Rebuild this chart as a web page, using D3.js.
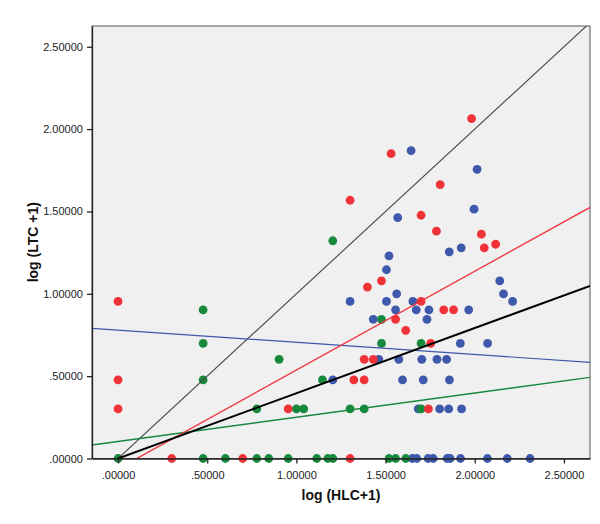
<!DOCTYPE html>
<html><head><meta charset="utf-8">
<script src="https://cdn.jsdelivr.net/npm/d3@7/dist/d3.min.js"></script>
<style>body{margin:0;background:#fff}svg{display:block}text{font-family:"Liberation Sans",Arial,sans-serif}</style>
</head><body><svg id="c" width="600" height="524"></svg>
<script>
const xTicks = [0, 0.5, 1.0, 1.5, 2.0, 2.5];
const yTicks = [0, 0.5, 1.0, 1.5, 2.0, 2.5];
const blueX = [1.204,1.462,1.301,1.562,1.505,1.556,1.431,1.574,1.505,1.519,1.568,1.643,2.013,1.996,1.857,1.924,2.140,2.161,2.212,1.653,1.672,1.743,1.966,1.732,1.919,2.072,1.703,1.788,1.842,1.595,1.711,1.858,1.683,1.803,1.854,1.926,1.650,1.675,1.738,1.767,1.845,1.862,1.920,2.071,2.182,2.310];
const blueY = [0.477,0.602,0.954,1.0,0.954,0.903,0.845,0.602,1.146,1.230,1.462,1.869,1.756,1.514,1.255,1.279,1.079,1.0,0.954,0.954,0.903,0.903,0.903,0.845,0.699,0.699,0.602,0.602,0.602,0.477,0.477,0.477,0.301,0.301,0.301,0.301,0,0,0,0,0,0,0,0,0,0];
const greenX = [0,0.477,0.602,0.778,0.845,0.954,1.114,1.176,1.204,1.519,1.556,1.613,0.477,0.477,0.477,0.903,0.778,1.0,1.041,1.146,1.301,1.380,1.477,1.477,1.699,1.699,1.204];
const greenY = [0,0,0,0,0,0,0,0,0,0,0,0,0.903,0.699,0.477,0.602,0.301,0.301,0.301,0.477,0.301,0.301,0.699,0.845,0.301,0.699,1.322];
const redX = [0,0,0,0.301,0.699,0.954,1.301,1.322,1.380,1.380,1.431,1.398,1.477,1.556,1.613,1.740,1.753,1.699,1.826,1.881,1.301,1.531,1.982,1.806,1.699,1.785,2.037,2.053,2.117];
const redY = [0.954,0.477,0.301,0,0,0.301,0,0.477,0.477,0.602,0.602,1.041,1.079,0.845,0.778,0.301,0.699,0.954,0.903,0.903,1.568,1.851,2.064,1.663,1.477,1.380,1.362,1.279,1.301];
// fit lines: [intercept, slope]
const fitBlue = [0.779, -0.0738];
const fitGreen = [0.1035, 0.147];
const fitRed = [-0.063, 0.600];
const fitTotal = [0.0, 0.396];
const refLine = [0, 1];

const svg = d3.select("#c");
const L=92,R=590,T=26,B=458.5;
const x = d3.scaleLinear().domain([-0.146, 2.646]).range([L,R]);
const y = d3.scaleLinear().domain([0, 2.626]).range([B,T]);
const fmt = v => { let s = v.toFixed(5); return s.startsWith("0") ? s.slice(1) : s; };

svg.append("rect").attr("x",L).attr("y",T).attr("width",R-L).attr("height",B-T).attr("fill","#f0f0f0").attr("stroke","#555").attr("stroke-width",1);
svg.append("clipPath").attr("id","clip").append("rect").attr("x",L).attr("y",T).attr("width",R-L).attr("height",B-T);

const col = {blue:"#3e58ac", green:"#16893c", red:"#ef3339"};
function pts(xs, ys, c){
  svg.append("g").selectAll("circle").data(xs.map((v,i)=>[v,ys[i]])).join("circle")
    .attr("cx",d=>x(d[0])).attr("cy",d=>y(d[1])).attr("r",4.4).attr("fill",c);
}
pts(blueX, blueY, col.blue);
pts(greenX, greenY, col.green);
pts(redX, redY, col.red);

const lg = svg.append("g").attr("clip-path","url(#clip)");
function fit(f, c, w){
  const [a,b]=f, x0=x.domain()[0], x1=x.domain()[1];
  lg.append("line").attr("x1",x(x0)).attr("y1",y(a+b*x0)).attr("x2",x(x1)).attr("y2",y(a+b*x1))
    .attr("stroke",c).attr("stroke-width",w);
}
fit(refLine, "#444", 1.1);
fit(fitBlue, "#3e58ac", 1.2);
fit(fitGreen, "#16893c", 1.3);
fit(fitRed, "#ef3339", 1.3);
fit(fitTotal, "#000", 2);

const xa = svg.append("g").attr("transform",`translate(0,${B})`)
  .call(d3.axisBottom(x).tickValues(xTicks).tickFormat(fmt).tickSize(5).tickSizeOuter(0));
const ya = svg.append("g").attr("transform",`translate(${L},0)`)
  .call(d3.axisLeft(y).tickValues(yTicks).tickFormat(fmt).tickSize(5).tickSizeOuter(0));
[xa,ya].forEach(a=>{
  a.select(".domain").attr("stroke","#222").attr("stroke-width",1.3);
  a.selectAll(".tick line").attr("stroke","#222").attr("stroke-width",1.3);
  a.selectAll("text").attr("font-size",11).attr("fill","#222").attr("font-family","Liberation Sans, Arial, sans-serif");
});
xa.selectAll("text").attr("dy","1.1em");
ya.selectAll("text").attr("dx","-0.1em");

svg.append("text").attr("x",(L+R)/2).attr("y",500).attr("text-anchor","middle")
  .attr("font-size",14).attr("font-weight","bold").attr("fill","#111").text("log (HLC+1)");
svg.append("text").attr("transform",`translate(38,${(T+B)/2}) rotate(-90)`).attr("text-anchor","middle")
  .attr("font-size",14).attr("font-weight","bold").attr("fill","#111").text("log (LTC +1)");
</script></body></html>
